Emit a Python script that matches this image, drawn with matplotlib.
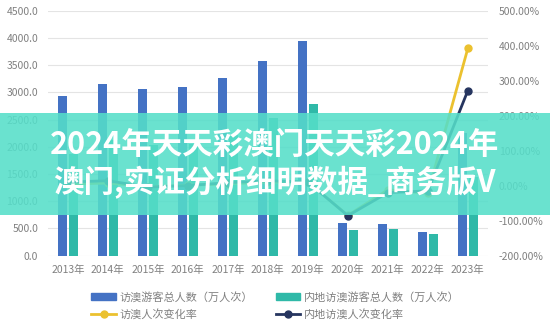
import matplotlib
matplotlib.use("Agg")
from matplotlib import pyplot as plt
from matplotlib.patches import Rectangle
from matplotlib.lines import Line2D
from matplotlib.ticker import FuncFormatter
import numpy as np

plt.rcParams['font.family'] = ['Noto Sans CJK SC', 'DejaVu Sans']

years = ['2013年', '2014年', '2015年', '2016年', '2017年', '2018年',
         '2019年', '2020年', '2021年', '2022年', '2023年']
total_visitors = [2932, 3153, 3071, 3095, 3261, 3580, 3941, 600, 581, 434, 2260]
mainland_visitors = [1863, 2125, 2041, 2045, 2220, 2526, 2792, 470, 495, 397, 1450]
total_change = [4.4, 7.5, -2.6, 0.8, 5.4, 9.8, 10.1, -85.0, -12.0, -22.0, 393.0]
mainland_change = [10.2, 14.1, -3.9, 0.2, 8.5, 13.8, 10.5, -86.0, -20.0, -15.0, 272.0]

label_total = '访澳游客总人数（万人次）'
label_mainland = '内地访澳游客总人数（万人次）'
label_total_rate = '访澳人次变化率'
label_mainland_rate = '内地访澳人次变化率'
banner_text = '2024年天天彩澳门天天彩2024年\n澳门,实证分析细明数据_商务版V'

c_blue = '#4472C4'
c_teal = '#2FB9A8'
c_yellow = '#EBC12F'
c_navy = '#26355F'
c_text = '#808080'
c_grid = '#E4E4E4'

fig = plt.figure(figsize=(5.5, 3.31), dpi=100)
ax = fig.add_axes([0.087, 0.228, 0.80, 0.739])
x = np.arange(len(years))
w = 0.22

ax.bar(x - 0.13, total_visitors, w, color=c_blue, zorder=2)
ax.bar(x + 0.15, mainland_visitors, w, color=c_teal, zorder=2)
ax.set_xlim(-0.5, 10.5)
ax.set_ylim(0, 4500)
ax.set_yticks(np.arange(0, 4501, 500))
ax.yaxis.set_major_formatter(FuncFormatter(lambda v, p: f'{v:.1f}'))
ax.set_xticks(x)
ax.set_xticklabels(years)
ax.grid(axis='y', color=c_grid, lw=0.8, zorder=0)
for s in ax.spines.values():
    s.set_visible(False)
ax.tick_params(length=0, colors=c_text, labelsize=7.5, pad=7)

ax2 = ax.twinx()
ax2.plot(x, total_change, color=c_yellow, lw=2, marker='o', ms=5, zorder=3)
ax2.plot(x, mainland_change, color=c_navy, lw=2, marker='o', ms=5, zorder=4)
ax2.set_ylim(-200, 500)
ax2.set_yticks(np.arange(-200, 501, 100))
ax2.yaxis.set_major_formatter(FuncFormatter(lambda v, p: f'{v:.2f}%'))
for s in ax2.spines.values():
    s.set_visible(False)
ax2.tick_params(length=0, colors=c_text, labelsize=7.5, pad=8)

handles = [Rectangle((0, 0), 1, 1, color=c_blue),
           Line2D([], [], color=c_yellow, lw=2, marker='o', ms=5),
           Rectangle((0, 0), 1, 1, color=c_teal),
           Line2D([], [], color=c_navy, lw=2, marker='o', ms=5)]
labels = [label_total, label_total_rate, label_mainland, label_mainland_rate]
leg = fig.legend(handles, labels, ncol=2, loc='upper left',
                 bbox_to_anchor=(0.148, 0.15), frameon=False,
                 fontsize=8, handlelength=2.2, handleheight=0.6,
                 columnspacing=2.1, labelspacing=0.6, handletextpad=0.3)
for t in leg.get_texts():
    t.set_color(c_text)

# overlay banner across the middle
fig.add_artist(Rectangle((0, 0.350), 1, 0.309, transform=fig.transFigure,
                         facecolor='#55DEC9', alpha=0.88, edgecolor='none',
                         zorder=10))
fig.text(0.499, 0.505, banner_text, ha='center', va='center', color='white',
         fontsize=22, fontweight='bold', linespacing=1.2, zorder=11)

fig.savefig('out.png', dpi=100)
